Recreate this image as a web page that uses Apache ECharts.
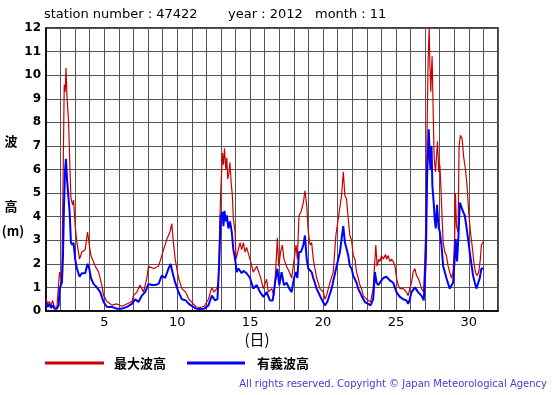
<!DOCTYPE html>
<html><head><meta charset="utf-8">
<script src="https://cdn.jsdelivr.net/npm/echarts@6/dist/echarts.min.js"></script>
<style>html,body{margin:0;padding:0;background:#fff}#c{width:555px;height:395px}</style>
</head><body><div id="c"></div>
<script>
// Day of month (fractional) and wave height (m)
const maxWave = [[1.0,0.52],[1.11,0.3],[1.23,0.4],[1.34,0.2],[1.45,0.45],[1.57,0.17],[1.75,0.17],[1.87,1.2],[1.93,1.65],[2.03,1.4],[2.09,1.65],[2.16,5.0],[2.25,9.6],[2.32,9.3],[2.37,10.3],[2.44,9.1],[2.55,8.0],[2.62,6.5],[2.71,4.8],[2.82,4.5],[2.89,4.7],[3.0,3.6],[3.12,2.9],[3.30,2.2],[3.46,2.5],[3.69,2.6],[3.85,3.35],[3.97,2.8],[4.08,2.35],[4.38,1.9],[4.61,1.65],[4.83,1.1],[4.95,0.65],[5.18,0.4],[5.52,0.25],[5.86,0.3],[6.2,0.2],[6.54,0.3],[6.89,0.4],[7.0,0.65],[7.23,0.8],[7.45,1.1],[7.69,0.8],[7.92,1.4],[8.03,1.9],[8.38,1.8],[8.72,1.9],[8.94,2.35],[9.29,3.05],[9.5,3.35],[9.63,3.7],[9.74,2.9],[9.86,2.2],[10.09,1.4],[10.32,0.95],[10.58,0.8],[10.8,0.5],[11.1,0.3],[11.3,0.17],[11.6,0.15],[11.85,0.2],[12.14,0.5],[12.37,1.0],[12.53,0.8],[12.71,0.95],[12.82,1.2],[12.89,2.9],[12.98,5.0],[13.1,6.7],[13.17,6.2],[13.24,6.9],[13.33,6.0],[13.4,6.5],[13.46,5.6],[13.56,5.9],[13.62,6.3],[13.69,5.5],[13.78,4.9],[13.85,3.9],[13.97,3.35],[14.03,2.2],[14.15,2.5],[14.31,2.9],[14.42,2.6],[14.54,2.9],[14.65,2.5],[14.76,2.7],[14.99,2.2],[15.22,1.65],[15.45,1.9],[15.68,1.5],[15.91,0.95],[16.13,1.35],[16.25,0.8],[16.48,0.95],[16.64,0.65],[16.77,1.9],[16.87,3.1],[16.96,1.9],[17.09,2.5],[17.21,2.8],[17.32,2.2],[17.5,1.9],[17.69,1.65],[17.85,1.4],[17.96,1.9],[18.15,2.8],[18.24,2.2],[18.35,4.05],[18.49,4.2],[18.65,4.6],[18.76,5.1],[18.88,4.5],[18.99,3.35],[19.11,2.8],[19.22,2.9],[19.33,2.2],[19.56,1.4],[19.79,0.95],[20.02,0.8],[20.13,0.5],[20.24,0.65],[20.47,1.2],[20.7,1.65],[20.88,3.2],[21.04,3.9],[21.27,4.9],[21.39,5.9],[21.5,4.9],[21.61,4.75],[21.73,3.9],[21.84,3.2],[21.96,3.0],[22.07,2.35],[22.19,2.2],[22.3,1.65],[22.41,1.4],[22.53,1.1],[22.64,0.95],[22.76,0.65],[22.98,0.5],[23.1,0.55],[23.26,0.38],[23.37,0.3],[23.44,0.95],[23.56,2.2],[23.62,2.8],[23.71,1.9],[23.83,2.2],[23.9,2.1],[24.01,2.35],[24.13,2.2],[24.29,2.4],[24.35,2.2],[24.47,2.35],[24.58,2.1],[24.7,2.2],[24.81,2.1],[24.93,1.9],[25.04,1.4],[25.15,1.1],[25.27,0.95],[25.5,0.95],[25.72,0.8],[25.84,0.65],[25.95,0.95],[26.07,1.2],[26.18,1.65],[26.3,1.8],[26.41,1.5],[26.52,1.4],[26.64,1.2],[26.75,0.95],[26.91,0.8],[27.05,3.6],[27.14,7.9],[27.21,10.7],[27.28,12.0],[27.32,10.7],[27.39,9.3],[27.48,10.8],[27.55,8.6],[27.62,6.5],[27.71,5.9],[27.78,6.5],[27.85,7.2],[27.94,5.9],[28.01,6.2],[28.08,5.3],[28.17,3.9],[28.24,2.9],[28.35,2.5],[28.46,2.35],[28.58,1.9],[28.69,1.65],[28.81,1.4],[28.92,1.65],[29.03,3.1],[29.08,5.0],[29.15,3.6],[29.26,3.35],[29.33,7.0],[29.42,7.45],[29.54,7.3],[29.65,6.5],[29.77,6.0],[29.88,5.3],[29.99,4.2],[30.11,3.35],[30.22,2.8],[30.34,2.1],[30.45,1.65],[30.56,1.5],[30.68,1.65],[30.79,2.2],[30.86,2.8],[30.98,2.9],[31.02,3.0]];
const sigWave = [[1.0,0.38],[1.11,0.17],[1.23,0.3],[1.34,0.13],[1.45,0.24],[1.57,0.1],[1.75,0.1],[1.87,0.24],[1.93,0.95],[2.03,0.95],[2.09,1.2],[2.16,2.2],[2.23,4.35],[2.30,5.9],[2.37,6.45],[2.44,5.6],[2.53,4.9],[2.62,4.2],[2.71,2.9],[2.82,2.8],[2.89,2.9],[3.0,2.2],[3.12,1.8],[3.30,1.45],[3.46,1.6],[3.69,1.6],[3.85,2.0],[3.97,1.8],[4.08,1.4],[4.26,1.15],[4.49,1.0],[4.72,0.8],[4.95,0.38],[5.18,0.17],[5.52,0.17],[5.86,0.1],[6.2,0.1],[6.54,0.17],[6.89,0.3],[7.12,0.5],[7.34,0.38],[7.57,0.65],[7.8,0.8],[8.03,1.15],[8.26,1.1],[8.49,1.1],[8.72,1.15],[8.94,1.5],[9.17,1.4],[9.4,1.8],[9.55,2.0],[9.67,1.65],[9.86,1.2],[10.09,0.8],[10.32,0.5],[10.58,0.45],[10.8,0.3],[11.1,0.17],[11.3,0.1],[11.6,0.08],[11.85,0.1],[12.14,0.24],[12.37,0.65],[12.6,0.45],[12.76,0.5],[12.89,2.2],[12.98,4.05],[13.1,4.2],[13.17,3.6],[13.24,4.25],[13.33,3.8],[13.4,4.05],[13.51,3.5],[13.62,3.8],[13.74,3.35],[13.85,2.6],[13.97,2.2],[14.08,1.65],[14.2,1.8],[14.42,1.6],[14.54,1.7],[14.76,1.6],[14.99,1.4],[15.22,0.95],[15.45,1.1],[15.68,0.8],[15.91,0.6],[16.13,0.8],[16.36,0.45],[16.55,0.45],[16.71,1.2],[16.87,1.8],[17.0,1.1],[17.16,1.65],[17.32,1.1],[17.5,1.2],[17.69,0.95],[17.85,0.8],[18.01,1.4],[18.15,1.65],[18.24,1.4],[18.35,2.5],[18.49,2.5],[18.65,2.8],[18.76,3.2],[18.88,2.2],[18.99,1.8],[19.22,1.65],[19.33,1.4],[19.56,0.95],[19.9,0.5],[20.13,0.24],[20.29,0.38],[20.59,0.95],[20.93,1.9],[21.16,2.5],[21.27,3.05],[21.39,3.6],[21.5,2.9],[21.61,2.9],[21.73,2.35],[21.84,1.9],[21.96,1.8],[22.07,1.5],[22.3,1.2],[22.41,0.95],[22.64,0.65],[22.87,0.38],[23.1,0.3],[23.26,0.24],[23.37,0.17],[23.44,0.5],[23.56,1.65],[23.67,1.2],[23.78,1.1],[23.9,1.2],[24.13,1.4],[24.35,1.45],[24.58,1.3],[24.81,1.2],[24.93,1.15],[25.04,0.8],[25.27,0.6],[25.5,0.5],[25.72,0.45],[25.84,0.3],[25.95,0.5],[26.07,0.8],[26.3,1.0],[26.52,0.8],[26.75,0.65],[26.91,0.45],[27.05,2.2],[27.14,5.75],[27.25,7.7],[27.32,6.5],[27.37,6.0],[27.44,7.0],[27.5,5.3],[27.6,4.5],[27.66,3.9],[27.73,3.5],[27.82,4.5],[27.92,3.6],[28.01,3.35],[28.12,2.8],[28.24,1.9],[28.35,1.65],[28.46,1.4],[28.69,0.95],[28.81,0.9],[28.92,1.2],[29.03,2.2],[29.1,3.05],[29.19,2.1],[29.29,3.2],[29.38,4.6],[29.49,4.6],[29.61,4.2],[29.72,4.05],[29.83,3.6],[29.95,3.05],[30.06,2.5],[30.29,1.5],[30.41,1.2],[30.52,0.95],[30.63,0.95],[30.75,1.4],[30.86,1.8],[31.02,1.8]];
const xTickLabels = [5, 10, 15, 20, 25, 30];
const yTickLabels = [0,1,2,3,4,5,6,7,8,9,10,11,12];
const seriesNames = ['最大波高', '有義波高'];

const chart = echarts.init(document.getElementById('c'), null, {renderer: 'canvas'});
const cjk = '"Noto Sans CJK JP", sans-serif';
chart.setOption({
  animation: false,
  backgroundColor: '#fff',
  grid: {left: 46, top: 28, width: 452, height: 283, show: true, borderColor: '#000', borderWidth: 1.5},
  xAxis: {
    type: 'value', min: 1, max: 32, interval: 1,
    axisLine: {show: true, lineStyle: {color: '#000', width: 1.5}},
    axisTick: {show: false},
    splitLine: {show: true, lineStyle: {color: '#555', width: 1}},
    axisLabel: {
      margin: 5, color: '#000', fontFamily: 'DejaVu Sans', fontSize: 13,
      formatter: v => xTickLabels.indexOf(v) >= 0 ? String(v) : ''
    }
  },
  yAxis: {
    type: 'value', min: 0, max: 12, interval: 1,
    axisLine: {show: true, lineStyle: {color: '#000', width: 1.5}},
    axisTick: {show: false},
    splitLine: {show: true, lineStyle: {color: '#555', width: 1}},
    axisLabel: {
      margin: 5, color: '#000', fontFamily: 'DejaVu Sans', fontWeight: 'bold', fontSize: 12,
      formatter: v => yTickLabels.indexOf(v) >= 0 ? String(v) : ''
    }
  },
  series: [
    {name: seriesNames[0], type: 'line', data: maxWave, showSymbol: false, lineStyle: {color: '#cc0000', width: 1.2}, itemStyle: {color: '#cc0000'}, z: 3},
    {name: seriesNames[1], type: 'line', data: sigWave, showSymbol: false, lineStyle: {color: '#0000ff', width: 2}, itemStyle: {color: '#0000ff'}, z: 4}
  ],
  graphic: [
    {type: 'text', left: 44, top: 8, style: {text: 'station number : 47422', font: '13px "DejaVu Sans"', fill: '#000'}},
    {type: 'text', left: 228, top: 8, style: {text: 'year : 2012', font: '13px "DejaVu Sans"', fill: '#000'}},
    {type: 'text', left: 315, top: 8, style: {text: 'month : 11', font: '13px "DejaVu Sans"', fill: '#000'}},
    {type: 'text', x: 11, y: 141, style: {text: '波', font: 'bold 13px ' + cjk, fill: '#000', align: 'center', verticalAlign: 'middle'}},
    {type: 'text', x: 11, y: 206, style: {text: '高', font: 'bold 13px ' + cjk, fill: '#000', align: 'center', verticalAlign: 'middle'}},
    {type: 'text', x: 13, y: 231, style: {text: '(m)', font: 'bold 13px ' + cjk, fill: '#000', align: 'center', verticalAlign: 'middle'}},
    {type: 'text', x: 257, y: 339, style: {text: '(日)', font: '15px ' + cjk, fill: '#000', align: 'center', verticalAlign: 'middle'}},
    {type: 'line', shape: {x1: 45, y1: 363, x2: 104, y2: 363}, style: {stroke: '#cc0000', lineWidth: 3}},
    {type: 'text', x: 114, y: 363, style: {text: seriesNames[0], font: 'bold 13px ' + cjk, fill: '#000', verticalAlign: 'middle'}},
    {type: 'line', shape: {x1: 187, y1: 363, x2: 245, y2: 363}, style: {stroke: '#0000ff', lineWidth: 3}},
    {type: 'text', x: 257, y: 363, style: {text: seriesNames[1], font: 'bold 13px ' + cjk, fill: '#000', verticalAlign: 'middle'}},
    {type: 'text', x: 547, y: 384, style: {text: 'All rights reserved. Copyright © Japan Meteorological Agency', font: '10px "DejaVu Sans"', fill: '#3c3cdc', align: 'right', verticalAlign: 'middle'}}
  ]
});
</script></body></html>
